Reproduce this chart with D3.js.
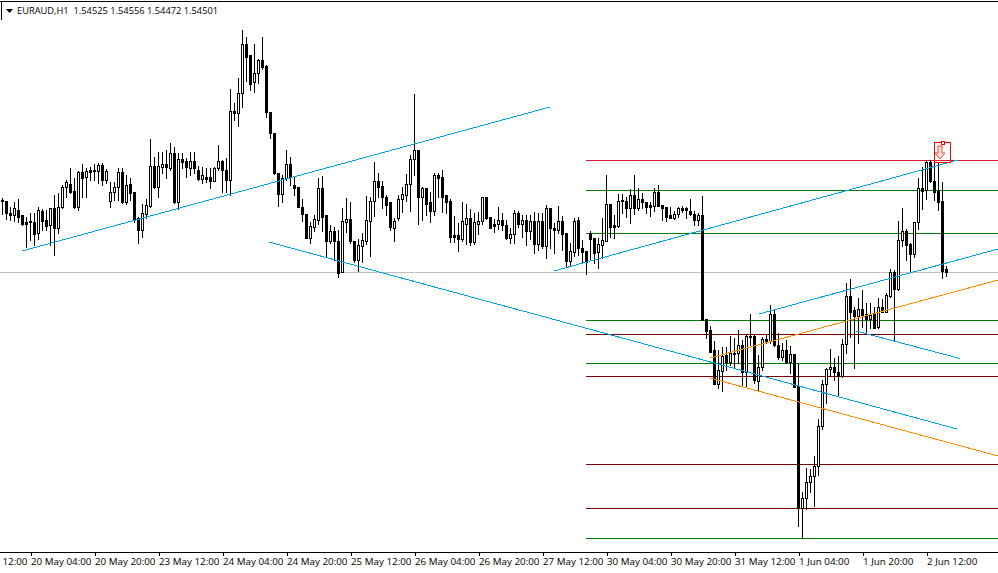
<!DOCTYPE html>
<html><head><meta charset="utf-8">
<script src="https://cdn.jsdelivr.net/npm/d3@7/dist/d3.min.js"></script>
<style>html,body{margin:0;padding:0;background:#fff;overflow:hidden}svg{display:block}
text{font-family:"Open Sans",sans-serif;font-size:9.3px;fill:#000}</style>
</head><body><div id="c"></div>
<script>
// EURAUD H1 prices, in units of 0.00001
const opens=[155065,155073,154977,154953,155001,154953,154897,154905,154897,154817,
154993,154921,154881,155009,154849,155025,155185,155209,155153,155025,
155305,155265,155321,155321,155313,155361,155241,155065,155145,155185,
155305,155057,155209,155145,154937,154841,154969,155033,155353,155185,
155345,155369,155337,155457,155057,155409,155385,155337,155385,155321,
155249,155265,155265,155233,155337,155385,155321,155241,155793,155777,
155937,156329,156233,156017,156097,156193,156153,155785,155617,155297,
155129,155257,155369,155201,155185,155025,154969,154777,154865,154921,
155177,154953,154753,154833,154753,154505,154897,154929,154753,154601,
154713,154753,154913,155065,155225,155193,155105,155057,154857,154937,
155089,155113,155209,155409,155481,155105,155177,155057,154993,155273,
155265,155113,155065,154793,154793,154769,154889,154937,154737,154889,
154905,155105,154945,154889,154889,154921,154881,154777,154809,154977,
154889,154921,154833,154913,154729,154905,154713,155009,154849,154841,
154913,154817,154593,154665,154921,154697,154673,154817,154777,154665,
154721,154753,155049,154881,154873,155081,155073,155017,155113,155017,
155089,155057,155041,155033,155145,155041,155025,154953,154937,154961,
155009,155009,154993,154969,154921,154953,154129,154041,153873,153609,
153713,153841,153785,153857,153857,153921,153705,153993,153985,153633,
153745,153969,153953,154169,153921,153825,153873,153785,153849,153593,
152617,152697,152817,152873,152953,153273,153609,153729,153745,153705,
153665,153929,154305,154193,154153,154209,154169,154129,154169,154065,
154225,154185,154313,154505,154369,154761,154833,154729,154649,154897,
155169,155161,155377,155233,155153,155065,154525];
const highs=[155097,155073,155025,155065,155089,154953,154945,154977,154977,155025,
155009,155001,155017,155121,155137,155201,155241,155337,155257,155313,
155369,155337,155345,155369,155377,155377,155329,155225,155225,155337,
155337,155281,155257,155145,154945,155049,155089,155569,155425,155465,
155465,155481,155537,155505,155457,155457,155417,155465,155465,155353,
155345,155337,155337,155345,155521,155401,155417,155969,155857,156057,
156441,156385,156233,156329,156209,156385,156161,155785,155617,155297,
155281,155481,155425,155265,155185,155089,154969,154905,154961,155257,
155273,154953,154881,154865,154841,155017,155097,155065,154753,154769,
154817,155113,155105,155385,155297,155233,155121,155057,154937,155121,
155185,155289,155441,155929,155481,155185,155177,155145,155297,155297,
155321,155113,155089,154953,154897,155065,155049,155009,154977,154985,
155105,155105,154945,154929,155025,154977,154921,154857,155001,154993,
154961,154961,154961,154985,154977,154977,155041,155009,154897,155033,
154953,154817,154737,154937,154945,154761,154673,154833,154777,154777,
154937,155281,155049,154961,155129,155129,155105,155169,155281,155177,
155137,155065,155065,155177,155201,155041,155025,155025,154993,155025,
155033,155025,155089,154993,154977,155113,154129,154073,153953,153881,
153905,153905,153993,153977,154041,153961,154009,154169,154001,153841,
153985,154001,154241,154201,154017,153937,153961,153913,153849,153769,
152745,152937,152929,153033,153329,153641,153737,153889,153817,153833,
153969,154417,154449,154225,154297,154361,154257,154257,154225,154297,
154289,154337,154529,154521,154913,155017,154849,154737,154897,155257,
155345,155401,155401,155385,155385,155225,154556];
const lows=[154969,154929,154921,154913,154905,154881,154705,154761,154721,154769,
154841,154841,154721,154641,154817,155017,155105,155137,155017,155001,
155105,155105,155241,155241,155217,155201,155217,155025,155081,155081,
155057,155049,155081,154905,154737,154785,154937,155025,155177,155105,
155297,155257,155321,155057,155009,155337,155265,155281,155297,155241,
155217,155225,155177,155233,155321,155145,155145,155121,155721,155673,
155825,156033,155961,155945,156017,156129,155745,155577,155289,155033,
155065,155241,155201,155121,155025,154913,154777,154737,154833,154889,
154833,154625,154737,154601,154465,154505,154825,154737,154585,154513,
154585,154729,154633,154953,155105,155017,154961,154841,154753,154921,
154985,155073,154993,155281,154889,154921,154961,154905,154961,155105,
154985,154977,154745,154745,154673,154753,154729,154721,154729,154809,
154889,154929,154857,154825,154849,154841,154769,154737,154737,154865,
154785,154721,154769,154657,154681,154697,154617,154697,154657,154817,
154681,154545,154553,154633,154641,154585,154489,154601,154577,154537,
154617,154753,154785,154777,154865,154977,154945,154897,154969,155001,
155017,154977,154953,154993,155033,154921,154913,154937,154929,154945,
154985,154937,154961,154881,154881,154121,153977,153865,153609,153577,
153553,153721,153761,153745,153777,153601,153585,153921,153617,153553,
153721,153937,153937,153913,153809,153801,153777,153697,153585,152473,
152377,152609,152745,152633,152881,153249,153457,153681,153641,153513,
153665,153857,153985,153737,153937,154065,154017,154057,154057,154057,
154185,154185,154305,153953,154361,154713,154601,154513,154625,154849,
155009,155089,155225,155081,155001,154457,154472];
const closes=[155081,154977,154953,155009,154945,154889,154889,154897,154801,155001,
154905,154873,155009,154849,155025,155185,155217,155145,155025,155305,
155257,155313,155305,155313,155361,155241,155313,155145,155185,155305,
155057,155201,155137,154921,154841,154977,155041,155353,155185,155353,
155369,155345,155457,155057,155409,155377,155345,155385,155337,155249,
155273,155249,155233,155337,155385,155321,155241,155793,155777,155937,
156329,156225,156009,156097,156193,156145,155785,155617,155297,155129,
155257,155369,155265,155177,155025,154961,154777,154873,154929,155177,
154945,154753,154833,154745,154497,154905,154929,154745,154601,154721,
154761,154921,155073,155225,155185,155105,155041,154865,154913,155089,
155121,155209,155409,155481,155105,155169,155049,154993,155273,155257,
155105,155057,154785,154785,154769,154905,154937,154737,154897,154913,
155105,154937,154857,154873,154921,154881,154777,154809,154977,154889,
154921,154833,154913,154729,154905,154713,155009,154849,154841,154905,
154809,154593,154673,154913,154697,154665,154577,154769,154657,154729,
154761,155049,154865,154865,155073,155073,155017,155113,155017,155089,
155057,155025,155025,155145,155033,155017,154945,154937,154969,155009,
155001,155001,154961,154921,154953,154121,154033,153865,153609,153721,
153833,153785,153857,153849,153921,153705,153993,153977,153641,153745,
153969,153953,154169,153921,153825,153873,153785,153849,153585,152617,
152697,152817,152873,152953,153273,153609,153729,153745,153705,153665,
153929,154305,154185,154153,154209,154161,154129,154161,154057,154225,
154185,154321,154505,154369,154761,154833,154721,154649,154897,155169,
155153,155377,155225,155145,155057,154513,154501];

const timeLabels=["19 May 12:00","20 May 04:00","20 May 20:00","23 May 12:00","24 May 04:00","24 May 20:00","25 May 12:00","26 May 04:00","26 May 20:00","27 May 12:00","30 May 04:00","30 May 20:00","31 May 12:00","1 Jun 04:00","1 Jun 20:00","2 Jun 12:00"];
const firstLabelBar=-9, barsPerLabel=16;

const headerText="EURAUD,H1  1.54525 1.54556 1.54472 1.54501";
const bidPrice=154501;

// horizontal levels
const levelPrices=[155401,155161,154817,154121,154009,153769,153665,152969,152617,152377];
const levelColors=["#dc143c","#008000","#008000","#008000","#800000","#008000","#800000","#800000","#800000","#008000"];
const levelStartBar=145.875, levelEndBar=250;

// trend lines: bar index and price of both ends
const trendBarA=[4.875,66.625,137.875,189.125,213.375,176.875,176.875];
const trendPriceA=[154673,154745,154513,154169,154033,153817,153657];
const trendBarB=[136.875,238.625,238.875,248.875,239.375,248.875,248.875];
const trendPriceB=[155825,153249,155401,154689,153813,154441,153033];
const trendColors=["#00a2e8","#00a2e8","#00a2e8","#00a2e8","#00a2e8","#ff8c00","#ff8c00"];

const W=998,H=573;
const x=d3.scaleLinear().domain([0,236]).range([2.5,946.5]);
const y=d3.scaleLinear().domain([152097,156681]).range([573,0]);
const snap=v=>Math.round(v-0.5)+0.5;

const svg=d3.select("#c").append("svg").attr("width",W).attr("height",H);

// frame and header
svg.append("line").attr("x1",0).attr("x2",W).attr("y1",1.5).attr("y2",1.5).attr("stroke","#000");
svg.append("line").attr("x1",1.5).attr("x2",1.5).attr("y1",1).attr("y2",20).attr("stroke","#000");
svg.append("path").attr("d","M6,9H13L9.5,13Z").attr("fill","#000");
svg.append("text").attr("x",17).attr("y",14).attr("xml:space","preserve").style("white-space","pre").text(headerText);

// bid line
svg.append("line").attr("x1",0).attr("x2",W).attr("y1",snap(y(bidPrice))).attr("y2",snap(y(bidPrice))).attr("stroke","#c0c0c0");

// levels
svg.append("g").attr("shape-rendering","crispEdges").selectAll("line").data(levelPrices).join("line")
 .attr("x1",x(levelStartBar)).attr("x2",x(levelEndBar))
 .attr("y1",d=>snap(y(d))).attr("y2",d=>snap(y(d)))
 .attr("stroke",(d,i)=>levelColors[i]);

// candles
const g=svg.append("g").attr("shape-rendering","crispEdges");
opens.forEach((o,i)=>{
  const cx=x(i), top=snap(y(Math.max(o,closes[i]))), bot=snap(y(Math.min(o,closes[i])));
  g.append("line").attr("x1",cx).attr("x2",cx).attr("y1",Math.round(y(highs[i]))).attr("y2",Math.round(y(lows[i]))+1).attr("stroke","#000");
  g.append("rect").attr("x",cx-1).attr("width",2).attr("y",top).attr("height",Math.max(bot-top,0))
   .attr("fill",closes[i]>=o?"#fff":"#000").attr("stroke","#000");
});

// trend lines
svg.append("g").attr("shape-rendering","crispEdges").selectAll("line").data(trendBarA).join("line")
 .attr("x1",d=>x(d)).attr("y1",(d,i)=>y(trendPriceA[i]))
 .attr("x2",(d,i)=>x(trendBarB[i])).attr("y2",(d,i)=>y(trendPriceB[i]))
 .attr("stroke",(d,i)=>trendColors[i]);

// sell-arrow object
const arrowBar=234.375, arrowPrice=155441;
const ax=x(arrowBar), ay=y(arrowPrice);
const ag=svg.append("g").attr("transform",`translate(${ax},${ay})`);
ag.append("rect").attr("x",-5.5).attr("y",-12.5).attr("width",16).attr("height",20).attr("fill","none").attr("stroke","#f00").attr("shape-rendering","crispEdges");
ag.append("path").attr("d","M-2,-9H2V-2H5L0,4L-5,-2H-2Z").attr("fill","#ffe0d8").attr("stroke","#f04a3a");
ag.append("rect").attr("x",1.5).attr("y",-13.5).attr("width",3).attr("height",3).attr("fill","#fff").attr("stroke","#f00").attr("shape-rendering","crispEdges");

// time axis
const tickBars=timeLabels.map((d,i)=>firstLabelBar+i*barsPerLabel);
const axis=d3.axisBottom(x).tickValues(tickBars).tickSize(3).tickPadding(3).tickFormat((d,i)=>timeLabels[i]);
const ag2=svg.append("g").attr("transform","translate(0,552.5)").call(axis);
ag2.select(".domain").remove();
svg.append("line").attr("x1",0).attr("x2",W).attr("y1",552.5).attr("y2",552.5).attr("stroke","#000");
ag2.selectAll(".tick line").attr("stroke","#000").attr("x1",0).attr("x2",0).attr("shape-rendering","crispEdges");
ag2.selectAll(".tick text").attr("text-anchor","start").style("font-family",'"Open Sans",sans-serif').style("font-size","9.8px").attr("fill","#000");
</script></body></html>
